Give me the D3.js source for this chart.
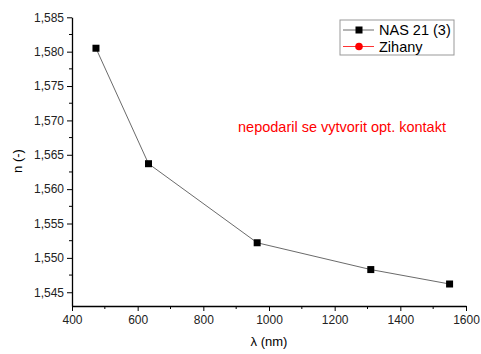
<!DOCTYPE html>
<html>
<head>
<meta charset="utf-8">
<title>n vs lambda</title>
<script src="https://d3js.org/d3.v7.min.js"></script>
<style>
  body { margin: 0; background: #fff; }
  text { font-family: "Liberation Sans", Arial, sans-serif; }
</style>
</head>
<body>
<script>
// data
var wavelengths = [473, 633, 964, 1310, 1550];
var indexValues = [1.5805, 1.5637, 1.5522, 1.5483, 1.5462];
var seriesNames = ["NAS 21 (3)", "Zihany"];
var seriesColors = ["#000000", "#ff0000"];
var xTicks = [400, 600, 800, 1000, 1200, 1400, 1600];
var yTicks = [1.545, 1.550, 1.555, 1.560, 1.565, 1.570, 1.575, 1.580, 1.585];
var note = "nepodaril se vytvorit opt. kontakt";

var width = 481, height = 354;
var mLeft = 72, mRight = 466, mTop = 17.3, mBottom = 306;

var svg = d3.select("body").append("svg")
  .attr("width", width)
  .attr("height", height);

var x = d3.scaleLinear().domain([400, 1600]).range([mLeft, mRight]);
var y = d3.scaleLinear().domain([1.543, 1.585]).range([mBottom, mTop]);

var fmt = function(d) { return d3.format(".3f")(d).replace(".", ","); };

// x axis
var xAxis = svg.append("g")
  .attr("transform", "translate(0," + mBottom + ")")
  .call(d3.axisBottom(x).tickValues(xTicks).tickFormat(d3.format("d"))
    .tickSize(5).tickSizeOuter(0).tickPadding(4));
xAxis.append("g").selectAll("line")
  .data(d3.range(500, 1600, 200))
  .enter().append("line")
  .attr("x1", function(d) { return x(d); })
  .attr("x2", function(d) { return x(d); })
  .attr("y1", 0).attr("y2", 3)
  .attr("stroke", "#000");

// y axis
var yAxis = svg.append("g")
  .attr("transform", "translate(" + mLeft + ",0)")
  .call(d3.axisLeft(y).tickValues(yTicks).tickFormat(fmt).tickSize(5).tickSizeOuter(0).tickPadding(3));
yAxis.append("g").selectAll("line")
  .data(d3.range(1.5475, 1.585, 0.005))
  .enter().append("line")
  .attr("y1", function(d) { return y(d); })
  .attr("y2", function(d) { return y(d); })
  .attr("x1", 0).attr("x2", -3)
  .attr("stroke", "#000");

svg.selectAll(".domain").attr("stroke", "#000").attr("stroke-width", 1.3);
svg.selectAll(".tick text").attr("font-size", 12).attr("fill", "#222")
  .style("font-family", "Liberation Sans, Arial, sans-serif");

// axis titles
svg.append("text")
  .attr("x", (mLeft + mRight) / 2).attr("y", 346)
  .attr("text-anchor", "middle").attr("font-size", 13)
  .text("\u03bb (nm)");
svg.append("text")
  .attr("transform", "translate(22,161) rotate(-90)")
  .attr("text-anchor", "middle").attr("font-size", 13)
  .text("n (-)");

// series line + markers
var pts = wavelengths.map(function(d, i) { return [d, indexValues[i]]; });
svg.append("path")
  .datum(pts)
  .attr("fill", "none")
  .attr("stroke", "#444")
  .attr("stroke-width", 0.8)
  .attr("d", d3.line().x(function(d) { return x(d[0]); }).y(function(d) { return y(d[1]); }));
svg.selectAll(".pt")
  .data(pts)
  .enter().append("rect")
  .attr("x", function(d) { return x(d[0]) - 3.5; })
  .attr("y", function(d) { return y(d[1]) - 3.5; })
  .attr("width", 7).attr("height", 7)
  .attr("fill", "#000");

// legend
var lg = svg.append("g");
lg.append("rect")
  .attr("x", 340).attr("y", 20).attr("width", 114).attr("height", 35)
  .attr("fill", "#fff").attr("stroke", "#999").attr("stroke-width", 1);
seriesNames.forEach(function(name, i) {
  var ly = 30 + i * 16.5;
  lg.append("line")
    .attr("x1", 343).attr("x2", 374).attr("y1", ly).attr("y2", ly)
    .attr("stroke", i === 0 ? "#444" : "#ff0000").attr("stroke-width", 0.8);
  if (i === 0) {
    lg.append("rect").attr("x", 355.5).attr("y", ly - 3.5).attr("width", 7).attr("height", 7)
      .attr("fill", seriesColors[i]);
  } else {
    lg.append("circle").attr("cx", 359).attr("cy", ly).attr("r", 3.8).attr("fill", seriesColors[i]);
  }
  lg.append("text").attr("x", 379).attr("y", ly + 5).attr("font-size", 14.5).text(name);
});

// note
svg.append("text")
  .attr("x", 238).attr("y", 132)
  .attr("font-size", 14.5).attr("fill", "#ff0000")
  .text(note);
</script>
</body>
</html>
